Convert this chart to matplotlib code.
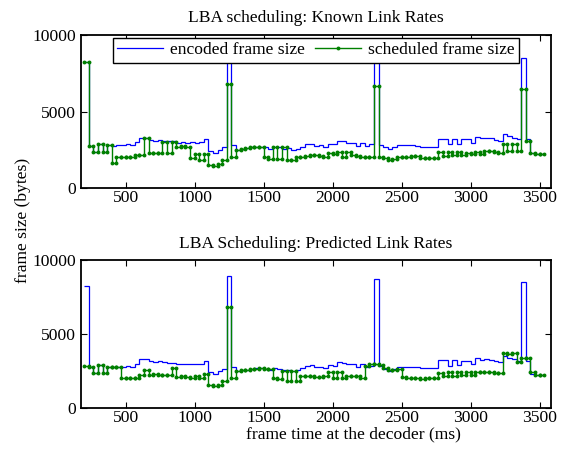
import numpy as np
import matplotlib
matplotlib.use("Agg")
import matplotlib.pyplot as plt
from matplotlib.lines import Line2D

plt.rcParams['font.family'] = ['Liberation Serif', 'DejaVu Serif']
plt.rcParams['mathtext.fontset'] = 'stix'

# frame timing (ms)
start_time = 200
frame_period = 1000 / 30
n_frames = 100

# encoded frame size (bytes), shared by both panels
encoded = [8250, 2750, 2350, 2900, 2350, 2800, 2750, 2800, 2800, 2850,
           2800, 3000, 3300, 3300, 3150, 3100, 3150, 3100, 3050, 3050,
           2950, 3000, 2950, 3000, 2950, 3000, 3200, 2400, 2300, 2500,
           2650, 8950, 2800, 2480, 2550, 2600, 2650, 2680, 2700, 2650,
           2550, 2700, 2650, 2550, 2600, 2500, 2550, 2700, 2850, 2900,
           2750, 2800, 2700, 2900, 2850, 3100, 3050, 2950, 2950, 2750,
           2950, 2750, 2850, 8750, 2810, 2650, 2530, 2650, 2800, 2800,
           2800, 2800, 2750, 2700, 2700, 2700, 2700, 3230, 3230, 2870,
           3230, 2900, 3200, 3200, 2950, 3350, 3250, 3300, 3250, 3150,
           3100, 3500, 3400, 3300, 3200, 8500, 3200, 2300, 2200, 2200]

# scheduled frame size, known link rates (bytes)
sched_known = [8250, 2750, 2350, 2900, 2350, 2800, 1610, 2050, 2050, 2050,
               2050, 2160, 2160, 3300, 2270, 2270, 2270, 3030, 2270, 3030,
               2700, 2750, 2700, 1940, 2200, 1830, 2200, 1500, 1450, 1600,
               1800, 6800, 2050, 2480, 2550, 2600, 2650, 2680, 2700, 2000,
               1900, 2700, 1900, 2700, 1800, 1850, 2000, 2050, 2100, 2150,
               2150, 2100, 2050, 2270, 2200, 2350, 2050, 2350, 2150, 2100,
               2000, 2000, 2050, 6650, 2000, 1950, 1850, 1900, 2000, 2050,
               2050, 2100, 2100, 1950, 1950, 1950, 1950, 2350, 2100, 2350,
               2150, 2350, 2150, 2300, 2200, 2350, 2200, 2450, 2400, 2350,
               2300, 2850, 2400, 2850, 2400, 6500, 3100, 2300, 2200, 2200]

# scheduled frame size, predicted link rates (bytes)
sched_pred = [2850, 2750, 2350, 2900, 2350, 2800, 2750, 2800, 2050, 2050,
              2050, 2050, 2250, 2550, 2250, 2300, 2250, 2250, 2200, 2700,
              2100, 2150, 2100, 2050, 2150, 2000, 2300, 1550, 1500, 1550,
              1850, 6850, 2050, 2500, 2550, 2600, 2650, 2650, 2700, 2650,
              2650, 2000, 1950, 2500, 1800, 2500, 1850, 2150, 2150, 2150,
              2100, 2100, 2150, 2400, 2000, 2400, 2000, 2150, 2150, 2150,
              2050, 2850, 2950, 2950, 2900, 2700, 2550, 2600, 2650, 2100,
              2050, 2050, 2000, 1950, 2000, 2000, 2050, 2350, 2150, 2400,
              2150, 2400, 2200, 2400, 2200, 2450, 2450, 2400, 2400, 2350,
              2350, 3750, 3650, 3750, 3100, 3350, 3350, 2400, 2200, 2200]

titles = ["LBA scheduling: Known Link Rates", "LBA Scheduling: Predicted Link Rates"]
xticks = [500, 1000, 1500, 2000, 2500, 3000, 3500]
yticks = [0, 5000, 10000]

edges = start_time + frame_period * np.arange(n_frames + 1)

W, H = 564, 453
fig = plt.figure(figsize=(W / 100, H / 100), dpi=100)
ax_top = fig.add_axes([80.7 / W, 1 - 188 / H, 470 / W, 153 / H])
ax_bot = fig.add_axes([80.7 / W, 1 - 408 / H, 470 / W, 148 / H])

FS = 12.6
blue = '#0000ff'
green = '#008000'

for ax, sched, title in zip([ax_top, ax_bot], [sched_known, sched_pred], titles):
    ax.stairs(encoded, edges, color=blue, lw=0.9, baseline=None, zorder=2)
    xs = np.column_stack([edges[:-1], edges[1:]]).ravel()
    ys = np.repeat(np.asarray(sched, float), 2)
    ax.plot(xs, ys, color=green, lw=1.0, marker='o', markersize=2.8,
            markeredgewidth=0, zorder=3)
    ax.set_xlim(174, 3580)
    ax.set_ylim(0, 10000)
    ax.set_xticks(xticks)
    ax.set_yticks(yticks)
    ax.tick_params(direction='in', top=True, right=True, labelsize=FS,
                   length=4, width=0.8)
    ax.tick_params(axis='x', pad=1.5)
    ax.tick_params(axis='y', pad=3.5)
    for s in ax.spines.values():
        s.set_linewidth(1.3)
    ax.set_title(title, fontsize=FS, pad=9)

handles = [Line2D([], [], color=blue, lw=0.9),
           Line2D([], [], color=green, lw=1.0, marker='o', markersize=2.8,
                  markeredgewidth=0)]
leg = ax_top.legend(handles, ["encoded frame size", "scheduled frame size"],
                    loc='upper center', ncol=2, fontsize=FS, frameon=True,
                    fancybox=False, framealpha=1, edgecolor='black',
                    borderaxespad=0.15, handlelength=2.6, handletextpad=0.4,
                    columnspacing=0.6, borderpad=0.25,
                    bbox_to_anchor=(0.5, 1.0))
leg.get_frame().set_linewidth(1.0)

fig.text(23 / W, 1 - 220 / H, "frame size (bytes)", rotation=90,
         ha='center', va='center', fontsize=FS)
fig.text(353 / W, 1 - 434 / H, "frame time at the decoder (ms)",
         ha='center', va='center', fontsize=FS)

fig.savefig("out.png", dpi=100)
